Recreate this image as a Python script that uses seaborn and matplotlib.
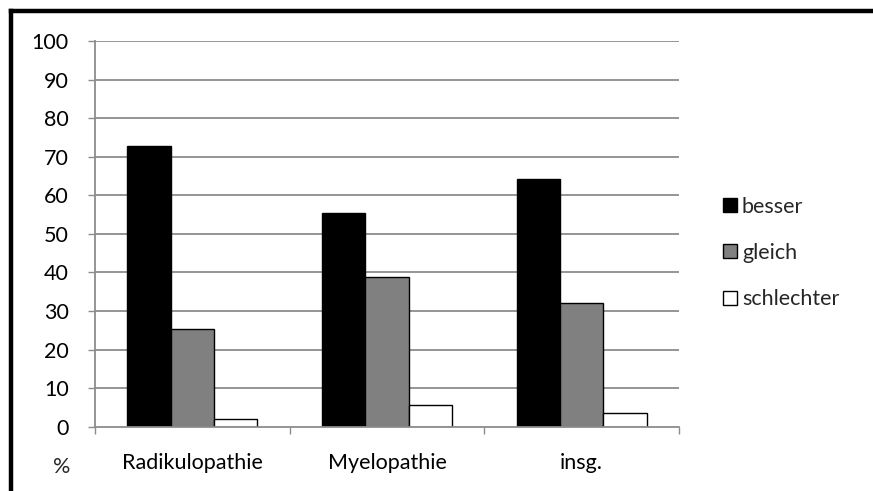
import matplotlib
matplotlib.use("Agg")
import matplotlib.pyplot as plt
from matplotlib.lines import Line2D
import seaborn as sns
import pandas as pd

# Outcome shares (%) per diagnosis group
categories = ["Radikulopathie", "Myelopathie", "insg."]
outcomes = ["besser", "gleich", "schlechter"]
besser = [72.7, 55.5, 64.3]
gleich = [25.3, 38.9, 32.1]
schlechter = [2.0, 5.6, 3.6]
y_ticks = list(range(0, 101, 10))

df = pd.DataFrame({
    "Gruppe": categories * 3,
    "Ergebnis": [o for o in outcomes for _ in categories],
    "Prozent": besser + gleich + schlechter,
})

sns.set_theme(style="white")
plt.rcParams["font.family"] = ["Lato", "DejaVu Sans"]
FS = 15.5
plt.rcParams["font.size"] = FS

fig = plt.figure(figsize=(8.73, 4.91), dpi=100)
ax = fig.add_axes([95 / 873, (491 - 426.7) / 491, 584 / 873, (426.7 - 41) / 491])

grid_c = "#8c8c8c"
palette = {"besser": "#000000", "gleich": "#808080", "schlechter": "#ffffff"}
sns.barplot(data=df, x="Gruppe", y="Prozent", hue="Ergebnis", order=categories,
            hue_order=outcomes, palette=palette, width=0.667, gap=0,
            edgecolor="black", linewidth=1.0, saturation=1, ax=ax, legend=False,
            zorder=3)

ax.set_ylim(0, 100)
ax.set_xlim(-0.5, 2.5)
ax.set_yticks(y_ticks)
ax.set_yticklabels([str(v) for v in y_ticks], fontsize=FS, color="black")
for v in y_ticks[1:]:
    ax.axhline(v, color=grid_c, lw=1.3, zorder=1)

ax.set_xticks([0, 1, 2])
ax.set_xticklabels(categories, fontsize=FS, color="black")
ax.set_xticks([-0.5, 0.5, 1.5, 2.5], minor=True)
ax.tick_params(axis="x", which="major", length=0, pad=19)
ax.tick_params(axis="x", which="minor", length=5, width=1.0, color=grid_c, direction="out", bottom=True)
ax.tick_params(axis="y", which="major", length=5, width=1.0, color=grid_c, direction="out", left=True, pad=14)
ax.set_xlabel("")
ax.set_ylabel("")

for side in ["top", "right"]:
    ax.spines[side].set_visible(False)
for side in ["left", "bottom"]:
    ax.spines[side].set_color(grid_c)
    ax.spines[side].set_linewidth(1.3)
    ax.spines[side].set_zorder(4)

# Legend with square swatches
handles = [Line2D([], [], marker="s", linestyle="none", markersize=10.5,
                  markerfacecolor=palette[o], markeredgecolor="black", markeredgewidth=1.0)
           for o in outcomes]
fig.legend(handles, outcomes, loc="upper left", bbox_to_anchor=(714 / 873, 1 - 188 / 491),
           frameon=False, fontsize=FS, handlelength=0.7, handletextpad=0.2,
           labelspacing=1.22, borderaxespad=0)

fig.text(62 / 873, 1 - 467 / 491, "%", ha="center", va="center", fontsize=FS)

# Outer frame (top and left edges)
fig.add_artist(Line2D([11 / 873, 1.0], [1 - 11 / 491, 1 - 11 / 491], color="black", lw=3.2,
                      transform=fig.transFigure, solid_capstyle="projecting"))
fig.add_artist(Line2D([11 / 873, 11 / 873], [1 - 11 / 491, 0.0], color="black", lw=3.2,
                      transform=fig.transFigure, solid_capstyle="projecting"))

fig.savefig("out.png", dpi=100, facecolor="white")
